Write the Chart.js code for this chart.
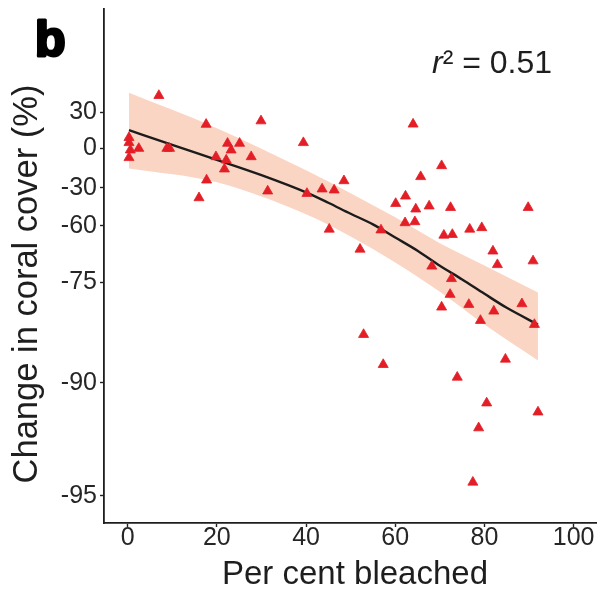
<!DOCTYPE html>
<html><head><meta charset="utf-8">
<script src="https://cdn.jsdelivr.net/npm/chart.js@4.4.1/dist/chart.umd.min.js"></script>
<style>html,body{margin:0;padding:0;background:#fff}#wrap{width:603px;height:596px;position:relative}</style>
</head><body><div id="wrap"><canvas id="c"></canvas></div>
<script>
// ---- data ----
const PCT_BLEACHED = [7.0,0.3,0.3,0.6,0.3,2.5,8.8,9.4,17.6,29.9,39.4,22.4,25.1,23.2,19.8,27.7,22.1,21.7,17.7,16.0,
  31.4,40.2,43.6,46.3,48.5,65.7,70.4,64.0,60.1,62.3,64.6,67.6,72.4,89.8,62.2,64.4,45.2,56.8,70.9,72.8,
  76.7,79.4,52.1,81.9,82.9,90.9,68.2,72.6,72.3,70.4,76.5,82.1,79.1,88.4,91.2,52.9,57.3,84.7,73.9,80.5,
  92.0,78.7,77.4];
const CORAL_CHANGE = [43.8,8.8,4.6,-1.4,-7.2,-0.2,-0.2,-0.2,19.8,22.7,4.6,4.0,4.0,-1.4,-6.5,-6.5,-9.0,-15.8,-24.2,-37.9,
  -32.6,-34.5,-31.0,-31.8,-24.7,-21.6,-13.3,20.0,-42.4,-36.6,-46.8,-44.4,-45.6,-45.6,-57.6,-56.8,-60.9,-61.1,-62.5,-62.3,
  -60.9,-60.5,-66.2,-66.7,-70.3,-69.3,-70.7,-74.0,-76.8,-78.7,-78.3,-79.3,-80.7,-78.2,-81.3,-82.8,-87.3,-86.5,-89.2,-90.9,
  -91.3,-92.0,-94.4];
const FIT_X   = [0.3, 10, 20, 30, 40, 45, 50, 55, 60, 65, 70, 75, 80, 85, 92];
const FIT_Y   = [15.0, 2.8, -8.8, -20.4, -33.6, -41.8, -50.5, -58.8, -63.1, -66.6, -70.6, -74.2, -76.7, -78.8, -81.3];
const BAND_X  = [0.3, 20, 40, 50, 60, 70, 80, 92];
const BAND_HI = [46.1, 16.7, -16.7, -34.3, -53.3, -64.6, -70.5, -76.5];
const BAND_LO = [-15.3, -25.8, -50.9, -62.8, -69.7, -76.4, -81.3, -86.7];
const Y_TICKS = [30, 0, -30, -60, -75, -90, -95];
const X_TICKS = [0, 20, 40, 60, 80, 100];
const R2_LABEL = '0.51';

// ---- non-linear y axis: relative spacing of the labelled ticks ----
const Y_WARP = [0, 36, 75.5, 113.5, 170, 270, 383];
function depth(v){
  const T = Y_TICKS, W = Y_WARP, n = T.length;
  if (v >= T[0]) return W[0] - (v - T[0]) / (T[0] - T[1]) * (W[1] - W[0]);
  for (let i = 0; i < n - 1; i++) {
    if (v <= T[i] && v >= T[i+1]) return W[i] + (T[i] - v) / (T[i] - T[i+1]) * (W[i+1] - W[i]);
  }
  return W[n-1] + (T[n-1] - v) / (T[n-2] - T[n-1]) * (W[n-1] - W[n-2]);
}
function undepth(d){
  const T = Y_TICKS, W = Y_WARP, n = T.length;
  if (d <= W[0]) return T[0] + (W[0] - d) / (W[1] - W[0]) * (T[0] - T[1]);
  for (let i = 0; i < n - 1; i++) {
    if (d >= W[i] && d <= W[i+1]) return T[i] - (d - W[i]) / (W[i+1] - W[i]) * (T[i] - T[i+1]);
  }
  return T[n-1] - (d - W[n-1]) / (W[n-1] - W[n-2]) * (T[n-2] - T[n-1]);
}
class WarpScale extends Chart.LinearScale {
  static id = 'warp';
  static defaults = {};
  buildTicks(){ return Y_TICKS.map(v => ({value: v})); }
  getPixelForValue(v){
    const d0 = depth(this.max), d1 = depth(this.min);
    return this.top + (depth(v) - d0) / (d1 - d0) * (this.bottom - this.top);
  }
  getValueForPixel(p){
    const d0 = depth(this.max), d1 = depth(this.min);
    return undepth(d0 + (p - this.top) / (this.bottom - this.top) * (d1 - d0));
  }
}
Chart.register(WarpScale);

const textPlugin = {
  id: 'texts',
  afterDraw(chart){
    const ctx = chart.ctx;
    ctx.save();
    ctx.fillStyle = '#1e1e1e';
    // y title
    ctx.save();
    ctx.translate(27, 284);
    ctx.rotate(-Math.PI/2);
    ctx.font = '34.5px "Liberation Sans", Arial, sans-serif';
    ctx.textAlign = 'center'; ctx.textBaseline = 'middle';
    ctx.fillText('Change in coral cover (%)', 0, 0);
    ctx.restore();
    // x title
    ctx.font = '33px "Liberation Sans", Arial, sans-serif';
    ctx.textAlign = 'center'; ctx.textBaseline = 'middle';
    ctx.fillText('Per cent bleached', 355, 575);
    // panel letter
    ctx.font = 'bold 50px "Liberation Sans", Arial, sans-serif';
    ctx.textAlign = 'left'; ctx.textBaseline = 'alphabetic';
    ctx.fillStyle = '#000'; ctx.strokeStyle = '#000'; ctx.lineWidth = 3; ctx.lineJoin = 'round';
    ctx.strokeText('b', 35, 56);
    ctx.fillText('b', 35, 56);
    // r^2
    ctx.fillStyle = '#1e1e1e';
    ctx.font = 'italic 32px "Liberation Sans", Arial, sans-serif';
    ctx.fillText('r', 432, 73);
    let x = 432 + ctx.measureText('r').width;
    ctx.font = '32px "Liberation Sans", Arial, sans-serif';
    ctx.fillText('\u00B2 = ' + R2_LABEL, x, 73);
    ctx.restore();
  }
};

const pts = PCT_BLEACHED.map((x, i) => ({x, y: CORAL_CHANGE[i]}));
const fit = FIT_X.map((x, i) => ({x, y: FIT_Y[i]}));
const hi = BAND_X.map((x, i) => ({x, y: BAND_HI[i]}));
const lo = BAND_X.map((x, i) => ({x, y: BAND_LO[i]}));

const tickFont = {family: '"Liberation Sans", Arial, sans-serif', size: 25, lineHeight: 1};
new Chart(document.getElementById('c'), {
  type: 'scatter',
  data: {datasets: [
    {label: 'sites', data: pts, pointStyle: 'triangle', pointRadius: 5.8, pointHoverRadius: 5.8,
     backgroundColor: '#E41E26', borderColor: '#E41E26', borderWidth: 0.8, order: 0},
    {label: 'fit', data: fit, showLine: true, pointRadius: 0, borderColor: '#1c1c1c', borderWidth: 2.4,
     cubicInterpolationMode: 'monotone', fill: false, order: 1},
    {label: 'lo', data: lo, showLine: true, pointRadius: 0, borderWidth: 0, borderColor: 'rgba(0,0,0,0)',
     cubicInterpolationMode: 'monotone', fill: false, order: 3},
    {label: 'hi', data: hi, showLine: true, pointRadius: 0, borderWidth: 0, borderColor: 'rgba(0,0,0,0)',
     backgroundColor: 'rgb(251,213,196)', cubicInterpolationMode: 'monotone', fill: 2, order: 2}
  ]},
  options: {
    responsive: true, maintainAspectRatio: false, animation: false,
    layout: {padding: {top: 9, right: 5, left: 0, bottom: 0}},
    plugins: {legend: {display: false}, tooltip: {enabled: false}},
    scales: {
      x: {type: 'linear', min: -5.3, max: 105.1,
          afterBuildTicks: s => { s.ticks = X_TICKS.map(v => ({value: v})); },
          afterFit: s => { s.height = 73; s.paddingLeft = 0; s.paddingRight = 0; },
          grid: {drawOnChartArea: false, drawTicks: true, tickLength: 4, tickColor: '#222', tickWidth: 1.4},
          border: {display: true, color: '#1e1e1e', width: 1.8},
          ticks: {font: tickFont, color: '#262626', padding: -1, maxRotation: 0, autoSkip: false,
                  callback: v => String(v)}},
      y: {type: 'warp', min: -96.2, max: 115.8,
          afterFit: s => { s.width = 104; s.paddingTop = 0; s.paddingBottom = 0; },
          grid: {drawOnChartArea: false, drawTicks: true, tickLength: 4, tickColor: '#222', tickWidth: 1.4},
          border: {display: true, color: '#1e1e1e', width: 1.8},
          ticks: {font: tickFont, color: '#262626', padding: 3, autoSkip: false,
                  callback: v => String(v)}}
    }
  },
  plugins: [textPlugin]
});
</script></body></html>
